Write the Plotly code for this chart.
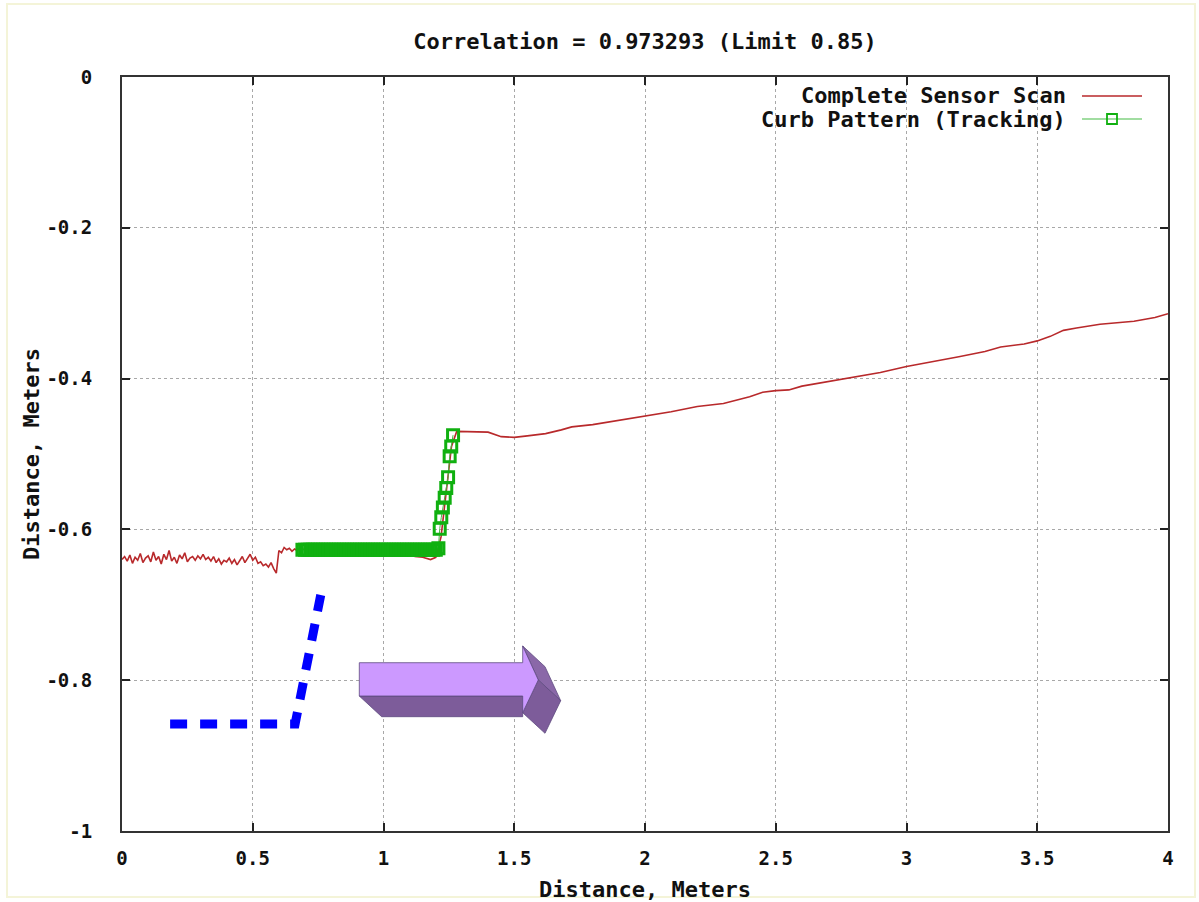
import plotly.graph_objects as go

# ---------------- data ----------------
title_text = "Correlation = 0.973293 (Limit 0.85)"
x_title = "Distance, Meters"
y_title = "Distance, Meters"
series_names = ["Complete Sensor Scan", "Curb Pattern (Tracking)"]

x_tickvals = [0, 0.5, 1, 1.5, 2, 2.5, 3, 3.5, 4]
x_ticktext = ["0", "0.5", "1", "1.5", "2", "2.5", "3", "3.5", "4"]
y_tickvals = [0, -0.2, -0.4, -0.6, -0.8, -1]
y_ticktext = ["0", "-0.2", "-0.4", "-0.6", "-0.8", "-1"]

# Complete sensor scan (red)
scan_x = [
    0.00, 0.01, 0.02, 0.03, 0.04, 0.05, 0.06, 0.07, 0.08, 0.09,
    0.10, 0.11, 0.12, 0.13, 0.14, 0.15, 0.16, 0.17, 0.18, 0.19,
    0.20, 0.21, 0.22, 0.23, 0.24, 0.25, 0.26, 0.27, 0.28, 0.29,
    0.30, 0.31, 0.32, 0.33, 0.34, 0.35, 0.36, 0.37, 0.38, 0.39,
    0.40, 0.41, 0.42, 0.43, 0.44, 0.45, 0.46, 0.47, 0.48, 0.49,
    0.50, 0.51, 0.52, 0.53, 0.54, 0.55, 0.56, 0.57, 0.58, 0.59,
    0.60, 0.61, 0.62, 0.63, 0.64, 0.65, 0.66, 0.67, 0.68, 0.70,
    0.80, 0.90, 1.00, 1.10, 1.12, 1.15, 1.18, 1.20, 1.22, 1.24,
    1.26, 1.28, 1.35, 1.40, 1.45, 1.50, 1.55, 1.62, 1.68, 1.72,
    1.80, 1.85, 1.93, 2.00, 2.10, 2.20, 2.30, 2.40, 2.45, 2.50,
    2.55, 2.60, 2.70, 2.80, 2.90, 3.00, 3.10, 3.20, 3.30, 3.36,
    3.45, 3.50, 3.55, 3.60, 3.65, 3.74, 3.87, 3.95, 4.00,
]
scan_y = [
    -0.640, -0.636, -0.642, -0.634, -0.645, -0.637, -0.641, -0.632, -0.644, -0.638,
    -0.635, -0.643, -0.630, -0.641, -0.636, -0.646, -0.633, -0.640, -0.628, -0.642,
    -0.637, -0.645, -0.634, -0.639, -0.631, -0.643, -0.638, -0.636, -0.641, -0.635,
    -0.639, -0.633, -0.640, -0.637, -0.642, -0.636, -0.644, -0.639, -0.646, -0.641,
    -0.643, -0.638, -0.645, -0.640, -0.647, -0.642, -0.636, -0.644, -0.639, -0.633,
    -0.641, -0.637, -0.645, -0.643, -0.648, -0.646, -0.650, -0.644, -0.652, -0.658,
    -0.628, -0.631, -0.624, -0.627, -0.625, -0.629, -0.626, -0.628, -0.625, -0.627,
    -0.628, -0.628, -0.629, -0.631, -0.636, -0.637, -0.640, -0.637, -0.610, -0.550,
    -0.490, -0.470, -0.470, -0.471, -0.477, -0.478, -0.476, -0.473, -0.468, -0.464,
    -0.461, -0.458, -0.454, -0.450, -0.444, -0.437, -0.433, -0.424, -0.418, -0.416,
    -0.415, -0.410, -0.404, -0.398, -0.392, -0.384, -0.378, -0.371, -0.364, -0.358,
    -0.354, -0.350, -0.344, -0.336, -0.333, -0.328, -0.324, -0.319, -0.314,
]

# Curb pattern (green, tracking)
curb_x = [
    0.69, 0.70, 0.71, 0.72, 0.73, 0.74, 0.75, 0.76, 0.77, 0.78,
    0.79, 0.80, 0.81, 0.82, 0.83, 0.84, 0.85, 0.86, 0.87, 0.88,
    0.89, 0.90, 0.91, 0.92, 0.93, 0.94, 0.95, 0.96, 0.97, 0.98,
    0.99, 1.00, 1.01, 1.02, 1.03, 1.04, 1.05, 1.06, 1.07, 1.08,
    1.09, 1.10, 1.11, 1.12, 1.13, 1.14, 1.15, 1.16, 1.17, 1.18,
    1.19, 1.20, 1.21, 1.215, 1.221, 1.227, 1.234, 1.240, 1.247, 1.253,
    1.259, 1.266,
]
curb_y = [
    -0.627, -0.627, -0.627, -0.627, -0.627, -0.627, -0.627, -0.627, -0.627, -0.627,
    -0.627, -0.627, -0.627, -0.627, -0.627, -0.627, -0.627, -0.627, -0.627, -0.627,
    -0.627, -0.627, -0.627, -0.627, -0.627, -0.627, -0.627, -0.627, -0.627, -0.627,
    -0.627, -0.627, -0.627, -0.627, -0.627, -0.627, -0.627, -0.627, -0.627, -0.627,
    -0.627, -0.627, -0.627, -0.627, -0.627, -0.627, -0.627, -0.627, -0.627, -0.627,
    -0.627, -0.627, -0.625, -0.599, -0.584, -0.571, -0.558, -0.545, -0.531, -0.503,
    -0.490, -0.475,
]

# Overlay sketch: blue dashed curb outline
sketch_x = [0.184, 0.662, 0.760]
sketch_y = [-0.858, -0.858, -0.687]

# Overlay: purple 3-D block arrow (faces)
arrow_front_x = [0.9075, 1.5323, 1.5323, 1.592, 1.5323, 1.5323, 0.9075, 0.9075]
arrow_front_y = [-0.7768, -0.7768, -0.7546, -0.7997, -0.8431, -0.8210, -0.8210, -0.7768]
arrow_bottom_x = [0.9075, 0.9931, 1.5323, 1.5323, 0.9075]
arrow_bottom_y = [-0.8210, -0.8484, -0.8484, -0.8210, -0.8210]
arrow_top_side_x = [1.5323, 1.6176, 1.6776, 1.592, 1.5323]
arrow_top_side_y = [-0.7546, -0.7821, -0.8272, -0.7997, -0.7546]
arrow_low_side_x = [1.592, 1.6776, 1.6176, 1.5323, 1.592]
arrow_low_side_y = [-0.7997, -0.8272, -0.8704, -0.8431, -0.7997]

# ---------------- style ----------------
FONT = "DejaVu Sans Mono"
RED = "#b8292b"
GREEN = "#10b010"
GREEN_LINE = "#44bb44"
LIGHT_PURPLE = "#cc99ff"
DARK_PURPLE = "#7d5c9a"
EDGE_PURPLE = "#5e4a80"

fig = go.Figure()

# purple arrow faces
for fx, fy, col in [
    (arrow_bottom_x, arrow_bottom_y, DARK_PURPLE),
    (arrow_top_side_x, arrow_top_side_y, "#8a68a8"),
    (arrow_low_side_x, arrow_low_side_y, DARK_PURPLE),
    (arrow_front_x, arrow_front_y, LIGHT_PURPLE),
]:
    fig.add_trace(go.Scatter(
        x=fx, y=fy, mode="lines", fill="toself", fillcolor=col,
        line=dict(color=EDGE_PURPLE, width=0.8),
        showlegend=False, hoverinfo="skip",
    ))

# blue dashed sketch
fig.add_trace(go.Scatter(
    x=sketch_x, y=sketch_y, mode="lines",
    line=dict(color="#0000ff", width=9, dash="17px,13px"),
    showlegend=False, hoverinfo="skip",
))

# red scan
fig.add_trace(go.Scatter(
    x=scan_x, y=scan_y, mode="lines", name=series_names[0],
    line=dict(color=RED, width=1.6), showlegend=False,
))

# green curb pattern
fig.add_trace(go.Scatter(
    x=curb_x, y=curb_y, mode="lines+markers", name=series_names[1],
    line=dict(color=GREEN_LINE, width=1),
    marker=dict(symbol="square-open", size=11, color=GREEN,
                line=dict(color=GREEN, width=3)),
    showlegend=False,
))

# ---------------- manual gnuplot-style legend ----------------
L, R, T, B = 122, 31, 77, 71
W, H = 1199, 902
pw, ph = W - L - R, H - T - B


def px(xp):
    return (xp - L) / pw


def py(yp):
    return (H - B - yp) / ph


legend_rows = [96, 119]
for i, name in enumerate(series_names):
    fig.add_annotation(
        x=px(1068), y=py(legend_rows[i]), xref="paper", yref="paper",
        text=name, showarrow=False, xanchor="right", yanchor="middle",
        font=dict(family=FONT, size=22, color="#111111", weight="bold"),
    )
fig.add_shape(type="line", xref="paper", yref="paper",
              x0=px(1082), x1=px(1142), y0=py(legend_rows[0]), y1=py(legend_rows[0]),
              line=dict(color=RED, width=1.6))
fig.add_shape(type="line", xref="paper", yref="paper",
              x0=px(1082), x1=px(1142), y0=py(legend_rows[1]), y1=py(legend_rows[1]),
              line=dict(color=GREEN_LINE, width=1.2))
fig.add_shape(type="rect", xref="paper", yref="paper",
              x0=px(1107), x1=px(1117), y0=py(legend_rows[1] + 5), y1=py(legend_rows[1] - 5),
              line=dict(color=GREEN, width=1.8), fillcolor="rgba(0,0,0,0)")

# faint outer page border
fig.add_shape(type="rect", xref="paper", yref="paper",
              x0=px(7), x1=px(1195), y0=py(897), y1=py(4),
              line=dict(color="#f4f4d8", width=2), layer="below")

axis_common = dict(
    showline=True, linecolor="#333333", linewidth=2, mirror="allticks",
    ticks="inside", ticklen=8, tickwidth=1.5, tickcolor="#222222",
    showgrid=True, gridcolor="#a8a8a8", gridwidth=1, griddash="dot",
    zeroline=False, automargin=False,
    tickfont=dict(family=FONT, size=19, color="#111111", weight="bold"),
)

fig.update_layout(
    width=W, height=H,
    margin=dict(l=L, r=R, t=T, b=B),
    paper_bgcolor="#ffffff", plot_bgcolor="#ffffff",
    showlegend=False,
    title=dict(
        text=title_text, x=0.5, xref="paper", xanchor="center",
        y=1 - 41 / H, yref="container", yanchor="middle",
        font=dict(family=FONT, size=22, color="#111111", weight="bold"),
    ),
    xaxis=dict(
        range=[0, 4], tickvals=x_tickvals, ticktext=x_ticktext,
        ticklabelstandoff=9,
        title=dict(text=x_title, standoff=14,
                   font=dict(family=FONT, size=22, color="#111111", weight="bold")),
        **axis_common,
    ),
    yaxis=dict(
        range=[-1, 0], tickvals=y_tickvals, ticktext=y_ticktext,
        ticklabelstandoff=24,
        title=dict(text=y_title, standoff=1,
                   font=dict(family=FONT, size=22, color="#111111", weight="bold")),
        **axis_common,
    ),
)

fig.write_html("out.html", config={"displayModeBar": False},
               post_script="document.body.style.margin='0';")
